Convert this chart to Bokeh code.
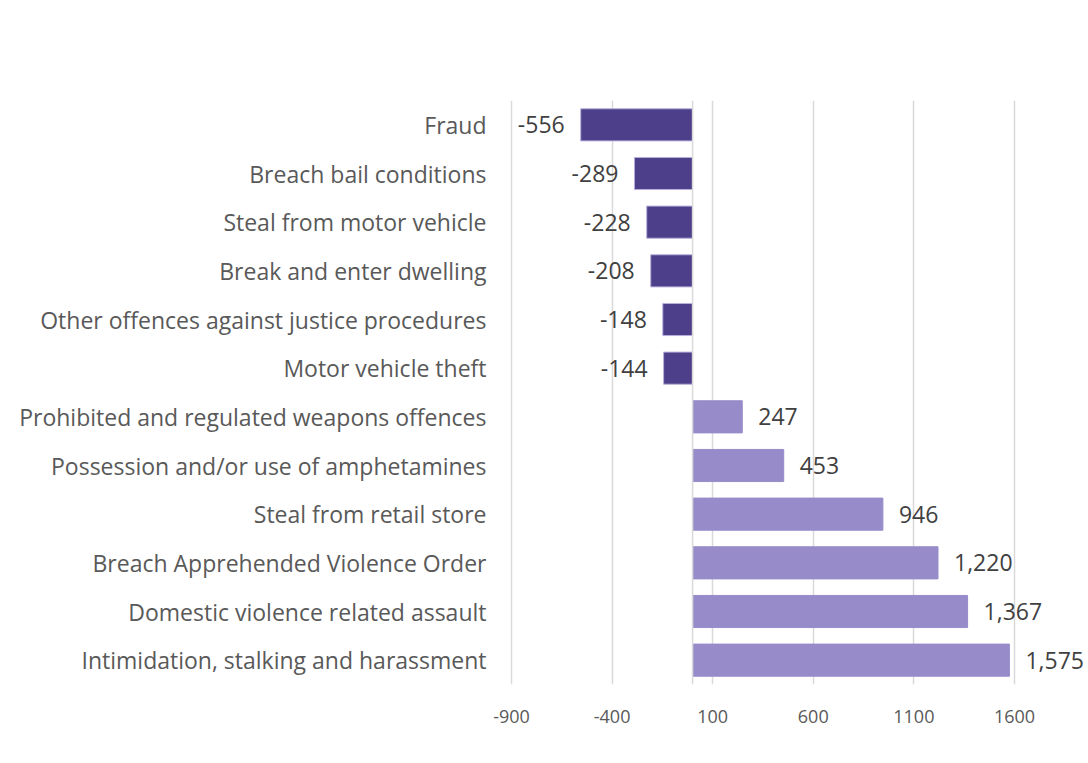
from bokeh.plotting import figure
from bokeh.models import FactorRange, Range1d, FixedTicker, Span, ColumnDataSource, PrintfTickFormatter
from bokeh.core.properties import value
from bokeh.embed import file_html
from bokeh.resources import INLINE

categories = [
    "Fraud",
    "Breach bail conditions",
    "Steal from motor vehicle",
    "Break and enter dwelling",
    "Other offences against justice procedures",
    "Motor vehicle theft",
    "Prohibited and regulated weapons offences",
    "Possession and/or use of amphetamines",
    "Steal from retail store",
    "Breach Apprehended Violence Order",
    "Domestic violence related assault",
    "Intimidation, stalking and harassment",
]
values = [-556, -289, -228, -208, -148, -144, 247, 453, 946, 1220, 1367, 1575]
x_ticks = [-900, -400, 100, 600, 1100, 1600]

NEG_COLOR = "#4e3f8a"
POS_COLOR = "#978cc9"

neg = dict(cat=[], val=[], lab=[])
pos = dict(cat=[], val=[], lab=[])
for c, v in zip(categories, values):
    d = neg if v < 0 else pos
    d["cat"].append(c)
    d["val"].append(v)
    d["lab"].append(f"{v:,}")

neg_src = ColumnDataSource(neg)
pos_src = ColumnDataSource(pos)

p = figure(
    width=1088, height=760,
    y_range=FactorRange(factors=list(reversed(categories)), range_padding=0),
    x_range=Range1d(-905, 1968),
    output_backend="svg", toolbar_location=None,
    min_border_left=510, min_border_right=0, min_border_top=100, min_border_bottom=76,
)
p.outline_line_color = None
p.background_fill_color = "white"
p.border_fill_color = "white"

p.ygrid.grid_line_color = None
p.xgrid.grid_line_color = "#d9d9d9"
p.xgrid.grid_line_width = 1.5
p.xaxis.ticker = FixedTicker(ticks=x_ticks)
p.xaxis.formatter = PrintfTickFormatter(format="%d")

zero = Span(location=0, dimension="height", line_color="#d9d9d9", line_width=1.5)
p.add_layout(zero)

p.hbar(y="cat", left=0, right="val", height=0.66, source=neg_src,
       fill_color=NEG_COLOR, line_color="#b8b0dc", line_width=1)
p.hbar(y="cat", left=0, right="val", height=0.66, source=pos_src,
       fill_color=POS_COLOR, line_color=POS_COLOR, line_width=1)

p.text(x="val", y="cat", text="lab", source=neg_src, x_offset=-16,
       text_align="right", text_baseline="middle",
       text_font=value("Open Sans"), text_font_size="23px", text_color="#404040")
p.text(x="val", y="cat", text="lab", source=pos_src, x_offset=16,
       text_align="left", text_baseline="middle",
       text_font=value("Open Sans"), text_font_size="23px", text_color="#404040")

for ax in (p.xaxis, p.yaxis):
    ax.axis_line_color = None
    ax.major_tick_line_color = None
    ax.minor_tick_line_color = None
    ax.major_label_text_color = "#595959"
    ax.major_label_text_font = "Open Sans"

p.yaxis.major_label_text_font_size = "23px"
p.yaxis.major_label_standoff = 18
p.xaxis.major_label_text_font_size = "18px"
p.xaxis.major_label_standoff = 19

open("out.html", "w").write(file_html(p, INLINE))
